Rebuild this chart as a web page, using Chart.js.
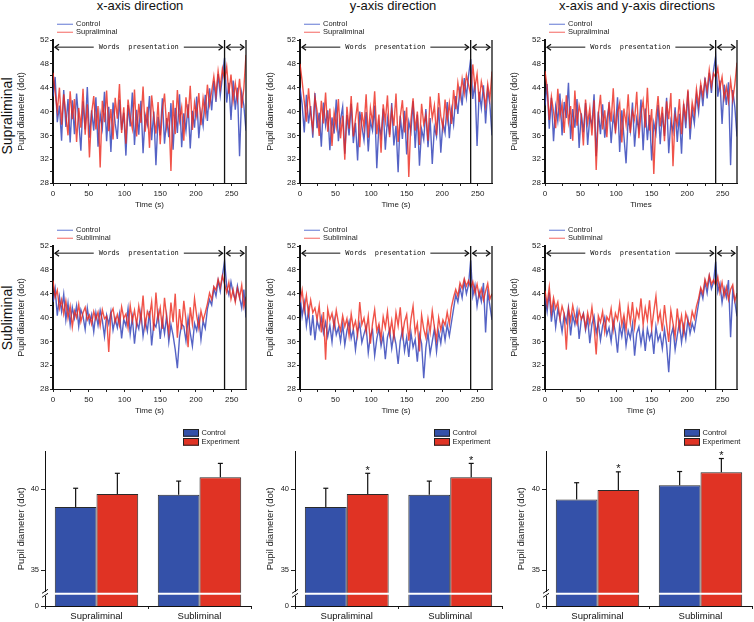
<!DOCTYPE html>
<html>
<head>
<meta charset="utf-8">
<title>Pupil diameter</title>
<script src="https://cdn.jsdelivr.net/npm/chart.js@4.4.1/dist/chart.umd.min.js"></script>
<style>
  body { margin: 0; background: #fff; font-family: "Liberation Sans", Arial, sans-serif; color: #111; }
  #fig { position: relative; width: 754px; height: 622px; overflow: hidden; }
  #fig canvas { position: absolute; }
  .col-title { position: absolute; top: -1.5px; font-size: 13px; line-height: 13px; white-space: nowrap; transform: translateX(-50%); }
  .row-title { position: absolute; font-size: 14px; line-height: 14px; white-space: nowrap; transform: translate(-50%, -50%) rotate(-90deg); }
</style>
</head>
<body>
<div id="fig">
  <div class="col-title" style="left:140px">x-axis direction</div>
  <div class="col-title" style="left:393px">y-axis direction</div>
  <div class="col-title" style="left:637px">x-axis and y-axis directions</div>
  <div class="row-title" style="left:7px;top:116px">Supraliminal</div>
  <div class="row-title" style="left:7px;top:318px">Subliminal</div>

  <canvas id="xSupra" width="248" height="195" style="left:0;top:15px"></canvas>
  <canvas id="ySupra" width="247" height="195" style="left:247px;top:15px"></canvas>
  <canvas id="xySupra" width="247" height="195" style="left:492px;top:15px"></canvas>
  <canvas id="xSub" width="248" height="195" style="left:0;top:221px"></canvas>
  <canvas id="ySub" width="247" height="195" style="left:247px;top:221px"></canvas>
  <canvas id="xySub" width="247" height="195" style="left:492px;top:221px"></canvas>
  <canvas id="xBars" width="253" height="202" style="left:0;top:420px"></canvas>
  <canvas id="yBars" width="254" height="202" style="left:250px;top:420px"></canvas>
  <canvas id="xyBars" width="254" height="202" style="left:500px;top:420px"></canvas>
</div>
<script>
// time axis (s), one sample every 3 s
var times = [0,3,6,9,12,15,18,21,24,27,30,33,36,39,42,45,48,51,54,57,60,63,66,69,72,75,78,81,84,87,
  90,93,96,99,102,105,108,111,114,117,120,123,126,129,132,135,138,141,144,147,150,153,156,159,162,165,168,171,174,177,
  180,183,186,189,192,195,198,201,204,207,210,213,216,219,222,225,228,231,234,237,240,243,246,249,252,255,258,261,264,267,270];
var timeTicks = [0,25,50,75,100,125,150,175,200,225,250];
var pupilTicks = [28,30,32,34,36,38,40,42,44,46,48,50,52];
var wordsEnd = 240;
var recordEnd = 270;

// Supraliminal traces (dot)
var xCtrlSupra = [42.5,45.8,38.2,41.0,35.1,43.6,37.4,42.1,34.8,41.9, 36.2,43.0,38.5,33.4,41.7,37.0,44.1,35.6,40.2,36.8,
  42.4,34.1,39.6,37.2,43.3,35.0,40.8,33.2,41.5,38.0, 35.4,42.0,36.9,39.8,32.6,41.1,37.5,43.2,34.4,40.3,
  36.1,41.8,33.0,39.4,37.8,42.6,35.2,40.0,31.0,39.1, 36.0,42.2,34.6,38.9,35.7,41.4,33.6,40.6,36.4,42.9,
  34.0,39.7,36.8,41.2,33.8,40.1,37.3,42.5,35.5,39.9, 37.6,42.8,38.4,43.9,40.2,45.1,41.6,46.3,42.7,45.8,
  49.0,41.5,44.8,38.6,45.2,40.3,44.0,32.5,43.1,41.0,36.8];
var xExpSupra = [46.5,43.2,40.1,44.0,37.8,42.9,39.5,36.0,43.4,38.7, 42.1,34.9,40.6,37.3,43.8,36.1,41.2,32.3,39.7,42.6,
  37.0,40.9,30.6,41.8,38.2,43.5,36.7,40.4,35.3,42.3, 38.8,44.6,36.4,40.7,34.6,42.0,39.0,37.1,43.7,35.8,
  41.3,38.1,44.2,36.6,40.8,33.9,42.7,39.2,36.3,41.6, 34.5,40.2,43.0,37.4,39.9,30.0,41.9,36.2,43.6,38.5,
  40.7,35.1,42.4,38.9,44.3,36.9,41.5,39.3,43.1,37.7, 42.2,39.6,44.5,41.1,43.4,45.9,42.8,46.8,44.1,47.2,
  45.3,47.5,43.0,46.2,41.8,44.7,42.0,45.5,40.6,43.9,49.5];
var yCtrlSupra = [44.0,41.2,36.5,42.8,38.0,40.9,35.6,43.1,37.2,39.8, 34.1,41.5,37.7,40.2,33.5,39.0,36.3,42.0,35.0,38.6,
  40.8,32.9,39.4,36.0,41.3,34.7,38.1,31.8,40.0,37.5, 35.2,39.9,33.3,38.4,36.8,41.0,30.5,37.9,35.9,40.5,
  33.6,38.8,36.1,41.4,34.3,37.6,29.8,39.3,35.4,40.1, 32.8,38.3,36.6,41.7,33.9,39.5,30.9,37.0,35.3,40.4,
  34.0,38.9,31.2,37.4,35.8,40.7,33.1,38.2,36.4,41.6, 35.5,40.3,37.8,42.6,39.6,44.2,41.0,45.6,42.4,46.0,
  48.8,42.1,44.9,34.2,43.3,40.6,44.4,38.0,43.7,41.2,36.0];
var yExpSupra = [48.0,45.1,41.7,38.3,43.9,39.6,37.0,42.4,40.1,35.9, 41.8,38.0,43.2,36.6,40.5,34.2,39.8,37.4,42.1,35.5,
  39.3,31.9,40.8,37.1,42.6,35.8,38.7,41.5,34.0,39.9, 37.3,42.9,35.6,40.6,38.1,43.4,36.2,39.5,33.1,41.2,
  38.4,42.7,35.7,40.3,37.6,43.0,34.9,39.1,41.9,36.5, 40.7,29.0,38.6,42.2,36.8,40.0,34.4,41.3,37.9,39.4,
  35.1,42.5,38.8,41.0,36.0,43.1,39.2,37.2,42.0,38.5, 41.4,37.9,43.6,40.4,44.8,42.3,45.5,43.0,46.1,44.5,
  42.8,47.9,44.0,46.3,41.6,45.0,43.2,40.9,44.6,42.1,46.7];
var xyCtrlSupra = [41.0,44.6,37.1,42.3,35.0,40.8,38.4,43.0,36.0,41.6, 38.9,44.8,35.4,40.4,37.3,42.1,33.9,39.7,36.5,41.4,
  34.4,39.1,37.7,42.9,32.5,40.0,36.2,41.2,35.6,38.6, 40.9,34.7,39.3,37.0,42.4,33.2,40.2,35.8,31.3,39.0,
  36.7,41.5,34.1,38.8,36.9,42.0,33.5,40.5,35.2,39.4, 31.8,38.1,36.3,41.1,34.5,39.8,35.9,42.3,33.0,38.4,
  36.6,40.7,34.9,39.6,32.9,41.3,37.2,43.4,35.3,40.3, 38.0,42.7,39.9,44.4,40.9,45.7,42.2,46.5,43.1,46.9,
  49.3,42.5,45.2,37.9,44.5,41.1,44.9,31.0,43.6,40.7,35.8];
var xyExpSupra = [46.8,44.0,38.6,42.5,40.0,37.2,43.8,39.1,41.3,36.4, 42.7,38.2,40.9,35.1,43.5,37.6,41.0,39.3,34.3,42.0,
  38.1,40.6,36.0,41.9,30.2,39.5,42.8,37.0,40.2,35.7, 41.6,38.3,43.9,36.3,39.8,41.4,34.8,40.5,37.8,42.9,
  36.4,40.1,38.6,43.3,35.5,39.7,41.8,37.3,44.0,36.8, 40.4,29.5,39.0,42.6,37.5,40.8,35.0,41.7,38.7,43.1,
  30.8,39.4,37.9,42.1,36.2,41.2,38.8,43.7,37.1,41.5, 39.6,43.8,41.1,44.7,42.6,45.3,43.5,47.0,44.2,46.4,
  45.7,47.3,43.9,45.8,42.2,44.1,41.7,45.2,42.0,44.6,48.2];

// Subliminal traces (dot)
var xCtrlSub = [42.6,44.8,40.3,43.5,41.0,43.9,39.6,42.4,38.8,41.7, 39.9,42.0,38.5,41.3,40.2,38.0,41.6,39.1,40.5,37.6,
  40.8,38.7,41.2,39.5,36.8,40.4,38.9,41.0,37.9,39.8, 38.3,40.6,36.5,39.7,38.6,41.5,37.2,40.0,35.6,39.2,
  38.1,40.9,36.9,39.4,37.7,41.1,35.3,39.0,38.4,40.7, 36.4,39.6,37.3,40.3,35.9,38.8,37.0,34.6,31.5,36.7,
  38.9,38.5,36.1,39.9,37.4,35.2,39.0,37.8,40.1,36.3, 39.4,38.2,41.4,43.0,42.1,44.9,43.6,46.2,44.4,47.0,
  49.5,45.2,43.8,46.0,44.1,42.9,45.3,43.4,41.6,44.7,40.0];
var xExpSub = [46.2,43.4,44.6,41.5,43.0,40.6,42.8,39.9,41.9,38.4, 41.1,40.0,42.2,39.3,40.8,41.7,39.6,40.4,38.9,41.0,
  39.7,40.9,38.6,41.3,39.8,40.2,34.2,40.7,41.5,39.2, 40.5,38.7,41.8,39.9,40.6,38.3,42.0,39.4,41.2,38.8,
  41.9,39.5,43.7,38.5,41.0,40.1,42.6,37.8,44.2,39.7, 41.6,38.1,43.3,40.0,37.4,42.5,39.2,44.0,36.6,41.4,
  38.0,42.8,39.6,35.0,41.7,38.9,43.2,40.3,38.2,41.1, 39.5,40.8,42.3,44.1,43.0,45.2,44.6,46.4,45.1,47.0,
  45.6,44.2,45.9,43.1,44.7,42.6,44.9,43.3,45.4,41.8,43.5];
var yCtrlSub = [43.8,40.2,42.5,38.6,41.3,37.0,40.4,36.2,39.5,38.1, 40.0,37.4,39.2,36.8,38.7,35.9,39.6,37.1,38.3,36.0,
  38.9,35.4,37.8,39.3,36.5,38.0,34.6,37.6,39.0,35.8, 37.2,38.5,34.1,36.9,37.9,33.6,36.4,38.2,35.2,37.0,
  33.0,36.7,38.0,34.8,37.3,35.5,32.2,36.1,37.8,34.4, 36.6,33.4,37.5,35.0,36.3,32.6,37.1,35.6,29.8,34.9,
  37.4,33.9,36.0,38.1,34.3,37.6,35.7,38.6,36.2,38.8, 36.9,39.2,41.5,43.8,42.6,45.0,43.3,46.1,44.0,45.5,
  49.6,43.6,45.4,41.9,44.3,42.7,45.8,37.5,44.2,42.0,39.6];
var yExpSub = [42.5,44.6,41.2,43.7,40.5,42.9,40.8,41.6,39.7,42.0, 37.5,40.9,32.9,41.4,39.6,40.7,38.4,41.2,39.1,37.8,
  40.3,38.5,39.8,36.9,40.6,38.2,39.4,37.1,42.6,38.8, 39.9,37.6,40.2,35.6,39.0,41.3,37.7,38.9,36.4,40.1,
  38.3,41.0,37.2,39.5,36.7,40.8,38.6,41.7,37.0,39.3, 40.5,36.1,39.7,41.9,37.4,39.0,34.3,40.4,38.1,36.6,
  39.8,37.5,41.1,38.4,36.2,40.0,37.9,39.6,38.7,40.9, 38.9,41.8,43.4,44.7,43.6,45.8,44.9,46.5,45.3,46.2,
  45.0,46.0,44.1,45.6,43.5,44.8,42.9,44.4,45.7,43.1,44.0];
var xyCtrlSub = [43.6,41.0,44.2,39.3,42.1,38.4,41.4,39.9,37.6,40.5, 39.2,41.6,37.0,40.3,38.8,41.1,36.4,39.6,40.7,37.9,
  39.8,35.7,38.9,40.2,37.4,39.1,36.2,38.6,40.0,37.1, 38.3,36.0,39.4,37.5,34.1,38.7,36.8,39.3,35.3,37.8,
  36.5,38.9,33.6,37.3,38.4,35.6,37.9,34.4,38.1,36.3, 37.6,33.9,38.5,36.1,37.2,34.8,38.0,35.4,30.8,36.9,
  38.3,34.6,37.0,39.2,35.8,38.6,36.4,39.7,37.3,39.0, 37.8,40.1,42.4,44.6,43.2,46.0,44.1,46.9,44.8,45.9,
  49.4,44.3,45.7,42.5,44.9,43.4,46.3,36.7,44.5,42.6,40.2];
var xyExpSub = [44.5,42.2,45.1,40.9,43.3,41.5,42.6,39.8,41.9,40.6, 34.6,41.4,39.5,42.0,40.1,38.9,41.2,39.7,40.6,38.3,
  40.8,39.0,41.7,38.5,33.8,40.3,39.2,41.0,37.6,40.1, 39.4,41.5,38.0,40.7,39.6,42.3,38.7,40.4,37.9,41.8,
  39.1,42.6,38.4,41.3,40.0,43.2,38.8,41.6,39.5,42.9, 38.2,41.0,43.6,39.3,40.9,37.7,42.1,38.9,35.9,41.2,
  39.0,36.8,41.5,38.1,40.3,37.4,40.7,39.4,38.6,41.0, 39.8,41.9,43.2,45.0,44.0,46.4,45.2,47.1,45.6,46.3,
  45.4,46.8,44.2,45.9,43.6,45.1,43.0,44.7,45.5,42.8,44.1];

// Mean pupil diameter (dot) and error bars
var barGroups = ['Supraliminal', 'Subliminal'];
var barTicks = [35, 40];
var xBarCtrl = [38.9, 39.65];
var xBarCtrlErr = [1.15, 0.84];
var xBarExp = [39.7, 40.72];
var xBarExpErr = [1.27, 0.86];
var yBarCtrl = [38.9, 39.65];
var yBarCtrlErr = [1.15, 0.84];
var yBarExp = [39.7, 40.72];
var yBarExpErr = [1.27, 0.86];
var xyBarCtrl = [39.35, 40.24];
var xyBarCtrlErr = [1.04, 0.84];
var xyBarExp = [39.94, 41.04];
var xyBarExpErr = [1.12, 0.84];
var yStars = [true, true];
var xyStars = [true, true];

var barAxisBottom = 32.8;   // where the broken axis shows "0"
var breakLevel = 33.55;
var arrowLevel = 50.8;

Chart.defaults.font.family = '"Liberation Sans", Arial, sans-serif';
Chart.defaults.color = '#222';

function line(ctx, x1, y1, x2, y2) {
  ctx.beginPath();
  ctx.moveTo(x1, y1);
  ctx.lineTo(x2, y2);
  ctx.stroke();
}

function head(ctx, x, y, dir) {
  ctx.beginPath();
  ctx.moveTo(x - dir * 4, y - 3);
  ctx.lineTo(x, y);
  ctx.lineTo(x - dir * 4, y + 3);
  ctx.stroke();
}

// stimulus period markers, arrows and the small legend
var traceMarks = {
  id: 'traceMarks',
  afterDatasetsDraw(chart) {
    var ctx = chart.ctx, a = chart.chartArea, x = chart.scales.x, y = chart.scales.y;
    var x0 = x.getPixelForValue(0), xw = x.getPixelForValue(wordsEnd), xe = x.getPixelForValue(recordEnd);
    var ay = y.getPixelForValue(arrowLevel);
    ctx.save();
    ctx.strokeStyle = '#111';
    ctx.lineWidth = 1.3;
    line(ctx, xw, a.top, xw, a.bottom);
    line(ctx, xe, a.top, xe, a.bottom);

    var label = 'Words  presentation';
    ctx.font = '7px "DejaVu Sans Mono", monospace';
    var tw = ctx.measureText(label).width, cx = (x0 + xw) / 2;
    ctx.lineWidth = 1;
    line(ctx, x0 + 2, ay, cx - tw / 2 - 5, ay);
    line(ctx, cx + tw / 2 + 5, ay, xw - 2, ay);
    line(ctx, xw + 2, ay, xe - 2, ay);
    ctx.lineWidth = 1.3;
    head(ctx, x0 + 2, ay, -1);
    head(ctx, xw - 2, ay, 1);
    head(ctx, xw + 2, ay, -1);
    head(ctx, xe - 2, ay, 1);
    ctx.fillStyle = '#111';
    ctx.textAlign = 'center';
    ctx.textBaseline = 'middle';
    ctx.fillText(label, cx, ay);

    // legend
    var keys = [['Control', 'rgba(110,130,215,0.85)'], [chart.data.datasets[1].label, 'rgba(245,115,110,0.85)']];
    ctx.font = '7.5px "Liberation Sans", Arial, sans-serif';
    ctx.textAlign = 'left';
    keys.forEach(function(k, i) {
      var ly = a.top - 15.7 + i * 8;
      ctx.strokeStyle = k[1];
      ctx.lineWidth = 1.3;
      line(ctx, a.left + 4, ly, a.left + 20, ly);
      ctx.fillStyle = '#222';
      ctx.fillText(k[0], a.left + 23, ly);
    });
    ctx.restore();
  }
};

function drawTrace(id, ctrl, expt, exptName, xTitle, yTitlePad) {
  var ctx = document.getElementById(id).getContext('2d');
  return new Chart(ctx, {
    type: 'line',
    data: {
      datasets: [{
        label: 'Control',
        data: times.map((t, i) => ({ x: t, y: ctrl[i] })),
        borderColor: 'rgba(42,60,182,0.8)',
        borderWidth: 1.4,
        pointRadius: 0,
        order: 1
      }, {
        label: exptName,
        data: times.map((t, i) => ({ x: t, y: expt[i] })),
        borderColor: 'rgba(236,40,28,0.8)',
        borderWidth: 1.4,
        pointRadius: 0,
        order: 0
      }]
    },
    options: {
      responsive: false,
      animation: false,
      layout: { padding: { top: 25, right: 2, left: 0, bottom: 0 } },
      plugins: { legend: { display: false }, tooltip: { enabled: false } },
      scales: {
        x: {
          type: 'linear',
          min: 0,
          max: recordEnd,
          afterBuildTicks: s => { s.ticks = timeTicks.map(v => ({ value: v })); },
          afterFit: s => { s.height = 27; },
          ticks: { autoSkip: false, maxRotation: 0, padding: 3, font: { size: 8 }, callback: v => v % 50 === 0 ? v : '' },
          grid: { drawOnChartArea: false, tickLength: 3, color: '#222' },
          border: { color: '#111', width: 1 },
          title: { display: true, text: xTitle, font: { size: 8 }, padding: 0 }
        },
        y: {
          min: 28,
          max: 52,
          afterBuildTicks: s => { s.ticks = pupilTicks.map(v => ({ value: v })); },
          afterFit: s => { s.width = 53; },
          ticks: { autoSkip: false, padding: 1, font: { size: 8 }, callback: v => v % 4 === 0 ? v : '' },
          grid: { drawOnChartArea: false, tickLength: 3, color: '#222' },
          border: { color: '#111', width: 2 },
          title: { display: true, text: 'Pupil diameter (dot)', font: { size: 9 }, padding: { top: yTitlePad, bottom: 0 } }
        }
      }
    },
    plugins: [traceMarks]
  });
}

// error bars, significance stars, axis break and legend
var barMarks = {
  id: 'barMarks',
  afterDatasetsDraw(chart) {
    var ctx = chart.ctx, a = chart.chartArea, y = chart.scales.y;
    ctx.save();
    ctx.strokeStyle = '#fff';
    ctx.lineWidth = 2;
    var by = y.getPixelForValue(breakLevel);
    line(ctx, a.left + 2, by, a.right, by);

    ctx.font = '11px "Liberation Sans", Arial, sans-serif';
    ctx.textAlign = 'center';
    ctx.textBaseline = 'alphabetic';
    ctx.fillStyle = '#111';
    chart.data.datasets.forEach(function(ds, di) {
      chart.getDatasetMeta(di).data.forEach(function(bar, i) {
        var top = y.getPixelForValue(ds.data[i] + ds.errors[i]);
        ctx.strokeStyle = '#111';
        ctx.lineWidth = 1.2;
        line(ctx, bar.x, bar.y, bar.x, top);
        line(ctx, bar.x - 2.5, top, bar.x + 2.5, top);
        if (ds.stars && ds.stars[i]) ctx.fillText('*', bar.x, top + 0.5);
      });
    });
    ctx.restore();
  },
  afterDraw(chart) {
    var ctx = chart.ctx, a = chart.chartArea, y = chart.scales.y;
    var by = y.getPixelForValue(breakLevel);
    ctx.save();
    ctx.fillStyle = '#fff';
    ctx.fillRect(a.left - 3, by - 2, 6, 4);
    ctx.strokeStyle = '#111';
    ctx.lineWidth = 1;
    line(ctx, a.left - 3, by - 0.5, a.left + 3, by - 4.5);
    line(ctx, a.left - 3, by + 3.5, a.left + 3, by - 0.5);

    ctx.font = '7.5px "Liberation Sans", Arial, sans-serif';
    ctx.textAlign = 'left';
    ctx.textBaseline = 'middle';
    chart.data.datasets.forEach(function(ds, i) {
      var bx = a.right - 68, bY = a.top - 22.7 + i * 9;
      ctx.fillStyle = ds.backgroundColor;
      ctx.fillRect(bx, bY, 16, 7.7);
      ctx.strokeStyle = '#222';
      ctx.strokeRect(bx + 0.5, bY + 0.5, 15, 6.7);
      ctx.fillStyle = '#222';
      ctx.fillText(ds.label, bx + 18.5, bY + 4);
    });
    ctx.restore();
  }
};

function drawBars(id, ctrl, ctrlErr, expt, exptErr, stars, yTitlePad, yWidth) {
  var ctx = document.getElementById(id).getContext('2d');
  return new Chart(ctx, {
    type: 'bar',
    data: {
      labels: barGroups,
      datasets: [{
        label: 'Control',
        data: ctrl,
        errors: ctrlErr,
        backgroundColor: '#3451a9',
        borderColor: '#2a2a2a',
        borderWidth: 1,
        categoryPercentage: 0.81,
        barPercentage: 1
      }, {
        label: 'Experiment',
        data: expt,
        errors: exptErr,
        stars: stars,
        backgroundColor: '#e03324',
        borderColor: '#2a2a2a',
        borderWidth: 1,
        categoryPercentage: 0.81,
        barPercentage: 1
      }]
    },
    options: {
      responsive: false,
      animation: false,
      layout: { padding: { top: 31.7, right: 2, left: 0, bottom: 0 } },
      plugins: { legend: { display: false }, tooltip: { enabled: false } },
      scales: {
        x: {
          afterFit: s => { s.height = 16; },
          ticks: { padding: 2, font: { size: 9.5 }, color: '#111' },
          grid: { offset: true, drawOnChartArea: false, tickLength: 3, color: '#222' },
          border: { color: '#111', width: 1 }
        },
        y: {
          min: barAxisBottom,
          max: 42.3,
          afterBuildTicks: s => { s.ticks = [{ value: barAxisBottom }].concat(barTicks.map(v => ({ value: v }))); },
          afterFit: s => { s.width = yWidth; },
          ticks: { autoSkip: false, padding: 2, font: { size: 7.5 }, callback: (v, i) => i === 0 ? '0' : String(v) },
          grid: { drawOnChartArea: false, tickLength: 4, color: '#222' },
          border: { color: '#111', width: 1 },
          title: { display: true, text: 'Pupil diameter (dot)', font: { size: 9.5 }, padding: { top: yTitlePad, bottom: 0 } }
        }
      }
    },
    plugins: [barMarks]
  });
}

drawTrace('xSupra', xCtrlSupra, xExpSupra, 'Supraliminal', 'Time (s)', 16.3);
drawTrace('ySupra', yCtrlSupra, yExpSupra, 'Supraliminal', 'Time (s)', 18.3);
drawTrace('xySupra', xyCtrlSupra, xyExpSupra, 'Supraliminal', 'Times', 17.6);
drawTrace('xSub', xCtrlSub, xExpSub, 'Subliminal', 'Time (s)', 16.3);
drawTrace('ySub', yCtrlSub, yExpSub, 'Subliminal', 'Time (s)', 18.3);
drawTrace('xySub', xyCtrlSub, xyExpSub, 'Subliminal', 'Time (s)', 17.6);

drawBars('xBars', xBarCtrl, xBarCtrlErr, xBarExp, xBarExpErr, null, 16, 45);
drawBars('yBars', yBarCtrl, yBarCtrlErr, yBarExp, yBarExpErr, yStars, 15, 45);
drawBars('xyBars', xyBarCtrl, xyBarCtrlErr, xyBarExp, xyBarExpErr, xyStars, 16, 46);
</script>
</body>
</html>
